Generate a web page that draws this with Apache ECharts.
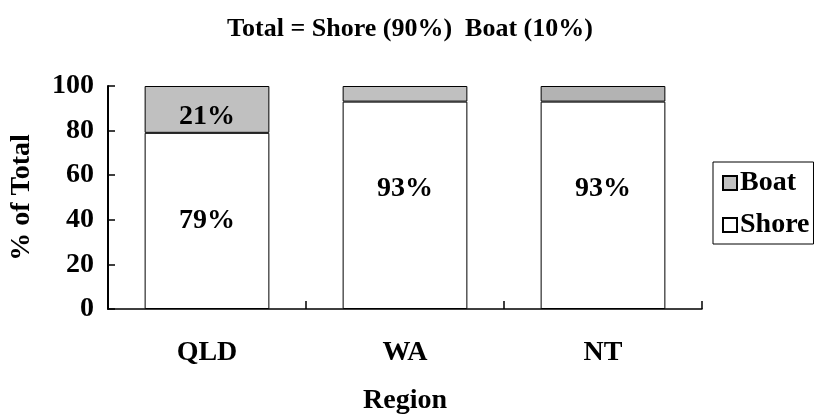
<!DOCTYPE html>
<html>
<head>
<meta charset="utf-8">
<script src="https://cdn.jsdelivr.net/npm/echarts@6/dist/echarts.min.js"></script>
<style>
  html, body { margin: 0; padding: 0; background: #fff; }
  #chart { width: 818px; height: 416px; }
</style>
</head>
<body>
<div id="chart"></div>
<script>
// Share of catch by fishing method, per region (percent of regional total)
var regions = ['QLD', 'WA', 'NT'];
var shore = [79, 93, 93];
var boat = [21, 7, 7];
var boatColors = ['#c0c0c0', '#c0c0c0', '#b3b3b3'];
var yTicks = [0, 20, 40, 60, 80, 100];

var serif = '"Liberation Serif", "Times New Roman", serif';
var chart = echarts.init(document.getElementById('chart'));

function pct(p) { return p.value + '%'; }

chart.setOption({
  animation: false,
  title: {
    text: 'Total = Shore (90%)  Boat (10%)',
    left: 405,
    textAlign: 'center',
    top: 11,
    textStyle: { fontFamily: serif, fontWeight: 'bold', fontSize: 26, color: '#000' }
  },
  legend: {
    data: ['Boat', 'Shore'],
    orient: 'vertical',
    left: 713,
    top: 162,
    padding: [7, 4, 5, 9],
    itemWidth: 14,
    itemHeight: 14,
    itemGap: 14,
    icon: 'rect',
    borderColor: '#000',
    borderWidth: 1,
    backgroundColor: '#fff',
    textStyle: { fontFamily: serif, fontWeight: 'bold', fontSize: 28, color: '#000', padding: [0, 0, 0, -2] }
  },
  grid: { left: 108, right: 116, top: 86, bottom: 107, outerBoundsMode: 'none', containLabel: false },
  xAxis: {
    type: 'category',
    data: regions,
    name: 'Region',
    nameLocation: 'middle',
    nameGap: 78,
    nameTextStyle: { fontFamily: serif, fontWeight: 'bold', fontSize: 28, color: '#000' },
    axisLine: { show: true, lineStyle: { color: '#000', width: 1.5 } },
    axisTick: { show: true, inside: true, interval: 0, length: 8, lineStyle: { color: '#000', width: 1.5 } },
    axisLabel: { margin: 30, fontFamily: serif, fontWeight: 'bold', fontSize: 28, color: '#000' }
  },
  yAxis: {
    type: 'value',
    position: 'left',
    min: 0,
    max: 100,
    interval: 20,
    name: '% of Total',
    nameLocation: 'middle',
    nameRotate: 90,
    nameGap: 72,
    nameTextStyle: { fontFamily: serif, fontWeight: 'bold', fontSize: 28, color: '#000' },
    axisLine: { show: true, onZero: false, lineStyle: { color: '#000', width: 2 } },
    axisTick: { show: true, inside: true, length: 7, lineStyle: { color: '#000', width: 1.5 } },
    splitLine: { show: false },
    axisLabel: {
      margin: 14,
      fontFamily: serif, fontWeight: 'bold', fontSize: 28, color: '#000',
      formatter: function (v) { return yTicks.indexOf(v) >= 0 ? String(v) : ''; }
    }
  },
  series: [
    {
      name: 'Shore',
      type: 'bar',
      stack: 'total',
      barWidth: '63%',
      itemStyle: { color: '#fff', borderColor: '#000', borderWidth: 1 },
      label: {
        show: true, position: 'inside', formatter: pct,
        fontFamily: serif, fontWeight: 'bold', fontSize: 28, color: '#000'
      },
      data: shore.map(function (v, i) {
        return i === 0 ? v : { value: v, label: { offset: [0, -17] } };
      })
    },
    {
      name: 'Boat',
      type: 'bar',
      stack: 'total',
      barWidth: '63%',
      itemStyle: { color: '#c0c0c0', borderColor: '#000', borderWidth: 1 },
      label: {
        show: false, position: 'inside', formatter: pct,
        fontFamily: serif, fontWeight: 'bold', fontSize: 28, color: '#000'
      },
      data: boat.map(function (v, i) {
        var item = { value: v, itemStyle: { color: boatColors[i] } };
        if (i === 0) item.label = { show: true, offset: [0, 7] };
        return item;
      })
    }
  ]
});
</script>
</body>
</html>
